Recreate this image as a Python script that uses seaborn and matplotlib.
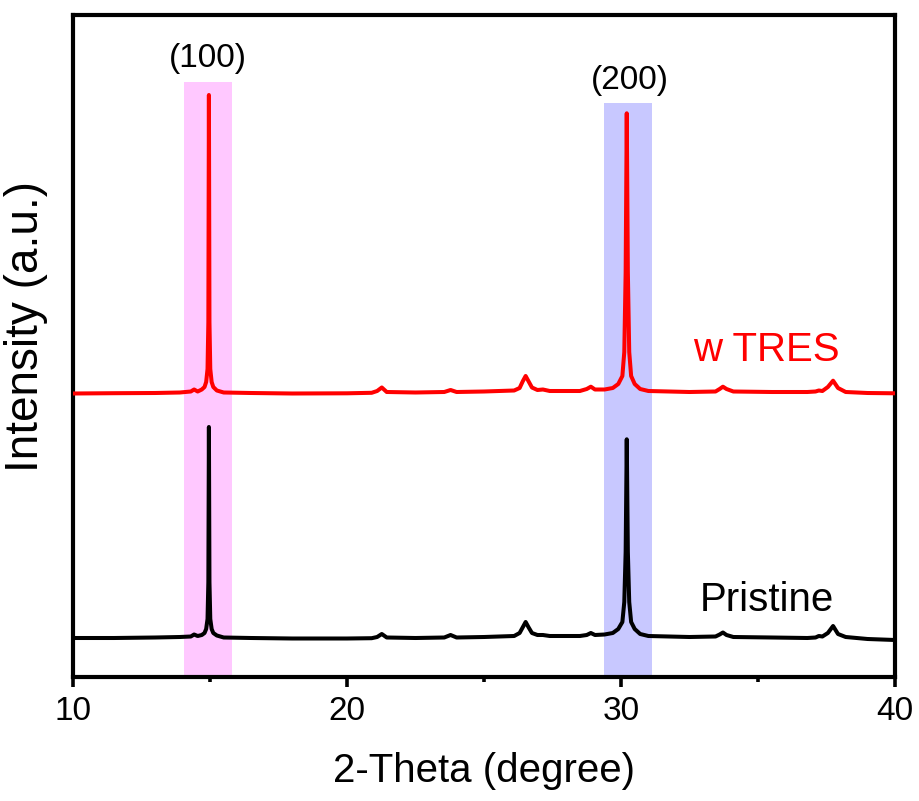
import matplotlib
matplotlib.use("Agg")
import matplotlib.pyplot as plt
import seaborn as sns
import pandas as pd

# ---- data ----
two_theta = [10.0, 11.5, 13.0, 13.9, 14.3, 14.42, 14.55, 14.70, 14.80, 14.86, 14.91, 14.94,
             14.96, 14.98, 15.01, 15.06, 15.12, 15.25, 15.5, 16.5, 18.0, 20.0, 20.9, 21.1,
             21.27, 21.45, 22.5, 23.55, 23.78, 24.0, 25.0, 26.1, 26.3, 26.42, 26.52, 26.62,
             26.75, 26.95, 27.15, 27.4, 28.5, 28.75, 28.9, 29.05, 29.4, 29.7, 29.9, 30.05,
             30.12, 30.17, 30.21, 30.25, 30.30, 30.37, 30.5, 30.7, 31.0, 32.5, 33.45, 33.6,
             33.72, 33.85, 34.1, 35.5, 36.8, 37.1, 37.22, 37.35, 37.55, 37.74, 37.92, 38.2,
             39.0, 40.0]
pristine = [39.0, 39.0, 39.5, 40.0, 40.5, 42.5, 41.0, 42.0, 44.0, 48.0, 58.0, 95.0,
            250.0, 95.0, 58.0, 48.0, 44.0, 41.5, 39.5, 39.0, 38.5, 38.5, 38.8, 40.0,
            43.0, 39.5, 39.0, 39.5, 42.0, 39.5, 40.0, 41.0, 44.0, 50.0, 55.0, 50.0,
            44.0, 42.0, 42.0, 41.0, 41.0, 42.0, 44.0, 42.0, 42.5, 44.0, 48.0, 55.0,
            75.0, 125.0, 237.7, 125.0, 75.0, 55.0, 48.0, 43.0, 41.0, 40.0, 40.5, 42.5,
            44.5, 42.0, 40.0, 39.5, 39.0, 39.5, 41.0, 40.5, 44.0, 51.0, 43.0, 40.0,
            38.0, 37.0]
w_tres = [283.5, 283.8, 284.0, 284.5, 285.5, 287.5, 285.5, 287.5, 290.0, 295.0, 308.0, 355.0,
          582.0, 355.0, 308.0, 295.0, 290.0, 286.5, 284.5, 284.0, 283.5, 283.7, 284.2, 286.0,
          289.5, 285.0, 284.5, 285.0, 287.0, 285.0, 285.5, 286.5, 289.0, 296.0, 301.0, 296.0,
          289.5, 287.0, 287.5, 286.0, 286.0, 288.0, 290.3, 287.5, 287.5, 289.0, 293.0, 301.0,
          325.0, 405.0, 563.7, 405.0, 325.0, 301.0, 293.0, 288.0, 286.0, 285.0, 285.5, 288.0,
          290.3, 288.0, 285.5, 285.0, 285.0, 285.5, 286.5, 286.0, 290.0, 296.3, 289.0, 285.0,
          284.0, 283.7]

band_labels = ["(100)", "(200)"]
band_lo = [14.05, 29.38]
band_hi = [15.80, 31.13]
band_top = [595.0, 574.0]
band_colors = ["#FFC8FF", "#C8C8FF"]

series_names = ["Pristine", "w TRES"]
series_colors = ["#000000", "#FF0000"]

xticks = [10, 20, 30, 40]

# ---- figure ----
sns.set_style("ticks")
plt.rcParams["font.family"] = ["Liberation Sans", "DejaVu Sans"]
plt.rcParams["text.color"] = "black"
plt.rcParams["axes.labelcolor"] = "black"
plt.rcParams["xtick.color"] = "black"
plt.rcParams["ytick.color"] = "black"

fig = plt.figure(figsize=(9.2, 8.01), dpi=100)
ax = fig.add_axes([73 / 920, 124 / 801, 822 / 920, 662 / 801])

# highlight bands
for lo, hi, top, c in zip(band_lo, band_hi, band_top, band_colors):
    ax.fill_between([lo, hi], 0, top, color=c, linewidth=0, zorder=0)

df = pd.concat([
    pd.DataFrame({"2theta": two_theta, "I": pristine, "sample": series_names[0]}),
    pd.DataFrame({"2theta": two_theta, "I": w_tres, "sample": series_names[1]}),
])
sns.lineplot(data=df, x="2theta", y="I", hue="sample",
             palette=dict(zip(series_names, series_colors)),
             estimator=None, sort=False, linewidth=2.9, legend=False, ax=ax, zorder=3)

ax.set_xlim(10, 40)
ax.set_ylim(0, 662)
ax.set_xticks(xticks)
ax.set_xticks([15, 25, 35], minor=True)
ax.set_yticks([])
ax.tick_params(axis="x", which="major", direction="out", length=7, width=2.6,
               labelsize=24, pad=7, colors="black")
ax.tick_params(axis="x", which="minor", direction="out", length=3.5, width=2.6, colors="black")

for s in ax.spines.values():
    s.set_visible(True)
    s.set_linewidth(3.0)
    s.set_color("black")

ax.set_xlabel("2-Theta (degree)", fontsize=29, color="black")
ax.set_ylabel("Intensity (a.u.)", fontsize=33, color="black")
ax.xaxis.set_label_coords(0.5, -0.113)
ax.yaxis.set_label_coords(-0.03, 0.53)

# annotations
ax.text(14.93, 619, band_labels[0], fontsize=24, ha="center", va="center", color="black")
ax.text(30.33, 597, band_labels[1], fontsize=24, ha="center", va="center", color="black")
ax.text(35.3, 327, series_names[1], fontsize=29, color=series_colors[1], ha="center", va="center")
ax.text(35.33, 77, series_names[0], fontsize=29, color=series_colors[0], ha="center", va="center")

fig.savefig("out.png", dpi=100)
